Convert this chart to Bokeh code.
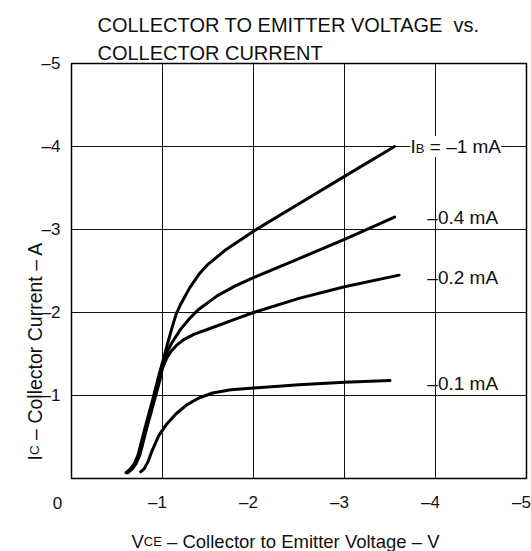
import math
from bokeh.plotting import figure
from bokeh.models import Range1d, Label
from bokeh.core.properties import value
from bokeh.embed import file_html
from bokeh.resources import INLINE

# ---------------- data ----------------
x_ticks = [-1, -2, -3, -4, -5]
x_tick_labels = ["–1", "–2", "–3", "–4", "–5"]
y_ticks = [-1, -2, -3, -4, -5]
y_tick_labels = ["–1", "–2", "–3", "–4", "–5"]
origin_label = "0"

vce_1mA = [-0.60, -0.65, -0.69, -0.73, -0.81, -0.89, -0.95, -1.00, -1.05, -1.10, -1.15, -1.20, -1.30, -1.40, -1.50, -1.70, -2.00, -2.50, -3.00, -3.55]
ic_1mA = [-0.07, -0.12, -0.18, -0.28, -0.62, -0.94, -1.20, -1.40, -1.60, -1.80, -1.98, -2.10, -2.30, -2.46, -2.58, -2.76, -2.98, -3.31, -3.64, -4.00]

vce_04mA = [-0.61, -0.66, -0.70, -0.74, -0.82, -0.90, -0.96, -1.00, -1.05, -1.10, -1.20, -1.30, -1.40, -1.60, -1.80, -2.00, -2.50, -3.00, -3.55]
ic_04mA = [-0.07, -0.12, -0.18, -0.28, -0.62, -0.94, -1.20, -1.38, -1.52, -1.63, -1.80, -1.93, -2.04, -2.20, -2.32, -2.42, -2.65, -2.88, -3.15]

vce_02mA = [-0.62, -0.67, -0.71, -0.75, -0.83, -0.91, -0.97, -1.00, -1.05, -1.10, -1.15, -1.23, -1.35, -1.53, -1.80, -2.00, -2.50, -3.00, -3.60]
ic_02mA = [-0.07, -0.12, -0.18, -0.28, -0.62, -0.94, -1.18, -1.33, -1.46, -1.54, -1.60, -1.67, -1.74, -1.81, -1.92, -2.00, -2.17, -2.31, -2.45]

vce_01mA = [-0.76, -0.80, -0.84, -0.88, -0.96, -1.05, -1.15, -1.27, -1.40, -1.55, -1.75, -2.00, -2.50, -3.00, -3.50]
ic_01mA = [-0.08, -0.12, -0.20, -0.32, -0.52, -0.66, -0.78, -0.89, -0.97, -1.03, -1.07, -1.09, -1.13, -1.16, -1.18]

series = [(vce_1mA, ic_1mA), (vce_04mA, ic_04mA), (vce_02mA, ic_02mA), (vce_01mA, ic_01mA)]

curve_label_text = ["–0.4 mA", "–0.2 mA", "–0.1 mA"]
curve_label_x = [-3.91, -3.91, -3.91]
curve_label_y = [-3.14, -2.42, -1.14]
ib_label_x = -3.725
ib_label_y = -4.0

title_lines = ["COLLECTOR TO EMITTER VOLTAGE \u00a0vs.", "COLLECTOR CURRENT"]

FONT = "Liberation Sans"
INK = "#111111"

# ---------------- geometry (pixels) ----------------
W, H = 531, 551
FL, FR, FT, FB = 71, 526, 63, 478          # chart box edges in pixels
x0, x1 = 0, min(x_ticks)                   # data extent of the chart box
y0, y1 = 0, min(y_ticks)
sx = (FR - FL) / (x0 - x1)                 # px per unit
sy = (FB - FT) / (y0 - y1)

p = figure(width=W, height=H, output_backend="svg", toolbar_location=None,
           x_range=Range1d(x0 + FL / sx, x0 - (W - FL) / sx),
           y_range=Range1d(y0 + (H - FB) / sy, y0 - FB / sy),
           min_border=0, x_axis_type=None, y_axis_type=None)
p.outline_line_color = None
p.background_fill_color = "white"
p.border_fill_color = "white"
p.grid.visible = False

# grid lines from ticks
inner_x = [t for t in x_ticks if t != x1]
inner_y = [t for t in y_ticks if t != y1]
p.segment(x0=inner_x, y0=[y0] * len(inner_x), x1=inner_x, y1=[y1] * len(inner_x),
          line_color=INK, line_width=1)
p.segment(x0=[x0] * len(inner_y), y0=inner_y, x1=[x1] * len(inner_y), y1=inner_y,
          line_color=INK, line_width=1)
# chart box
p.quad(left=[x0], right=[x1], bottom=[y0], top=[y1], fill_color=None,
       line_color="black", line_width=1.5)

# curves
for xs, ys in series:
    p.line(xs, ys, line_color="black", line_width=3, line_join="round", line_cap="round")

# tick labels
p.text(x=x_ticks, y=[y0] * len(x_ticks), text=x_tick_labels, x_offset=-5, y_offset=24,
       text_align="center", text_baseline="middle", text_font=value(FONT),
       text_font_size="17px", text_color=INK)
p.text(x=[x0] * len(y_ticks), y=y_ticks, text=y_tick_labels, x_offset=-11,
       text_align="right", text_baseline="middle", text_font=value(FONT),
       text_font_size="17px", text_color=INK)


def add_label(x, y, text, size, xo=0, yo=0, align="left", baseline="alphabetic", angle=0, bg=None):
    lab = Label(x=x, y=y, x_offset=xo, y_offset=yo, text=text,
                text_font=FONT, text_font_size=f"{size}px", text_color=INK,
                text_align=align, text_baseline=baseline, angle=angle)
    if bg:
        lab.background_fill_color = bg
    p.add_layout(lab)


add_label(x0, y0, origin_label, 17, xo=-14, yo=-24, align="center", baseline="middle")

# title
add_label(x0, y1, title_lines[0], 20, xo=26, yo=39)
add_label(x0, y1, title_lines[1], 20, xo=26, yo=11)

# x axis title with subscript
add_label(x0, y0, "V", 18.5, xo=60, yo=-63)
add_label(x0, y0, "CE", 13, xo=72.3, yo=-63)
add_label(x0, y0, "\u00a0– Collector to Emitter Voltage – V", 18.5, xo=90.4, yo=-63)

# y axis title (rotated) with subscript
add_label(x0, y0, "I", 19.5, xo=-37, yo=18, angle=math.pi / 2)
add_label(x0, y0, "C", 13.6, xo=-37, yo=23.4, angle=math.pi / 2)
add_label(x0, y0, "\u00a0– Collector Current – A", 19.5, xo=-37, yo=33.2, angle=math.pi / 2)

# curve labels
for t, lx, ly in zip(curve_label_text, curve_label_x, curve_label_y):
    add_label(lx, ly, t, 19, baseline="middle")

add_label(ib_label_x, ib_label_y, "I", 19, baseline="middle", bg="white")
add_label(ib_label_x, ib_label_y, "B", 13, xo=5.3, yo=-2, baseline="middle", bg="white")
add_label(ib_label_x, ib_label_y, "\u00a0=\u00a0–1 mA", 19, xo=14, baseline="middle", bg="white")

open("out.html", "w").write(file_html(p, INLINE))
